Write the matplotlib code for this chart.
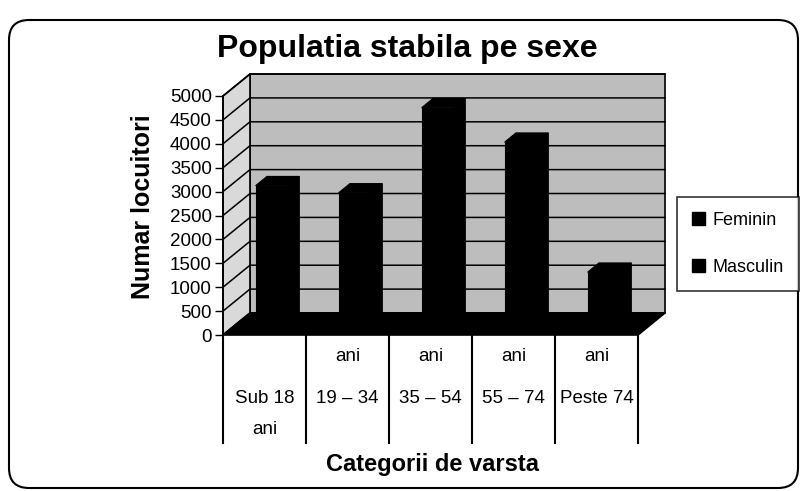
import matplotlib
matplotlib.use("Agg")
import matplotlib.pyplot as plt
from matplotlib.patches import Polygon, FancyBboxPatch, Patch

plt.rcParams['font.family'] = ['Liberation Sans', 'DejaVu Sans']

# age groups, split over the three text lines of each category cell
label_top = ["", "ani", "ani", "ani", "ani"]
label_mid = ["Sub 18", "19 – 34", "35 – 54", "55 – 74", "Peste 74"]
label_bot = ["ani", "", "", "", ""]
populatie = [3000, 2850, 4630, 3910, 1190]
series_names = ["Feminin", "Masculin"]
y_ticks = list(range(0, 5001, 500))

W, H = 802, 491
fig = plt.figure(figsize=(W / 100, H / 100), dpi=100)

# front plane of the 3-D box: x = category index, y = number of inhabitants
ax = fig.add_axes([223 / W, (H - 335) / H, (638 - 223) / W, (335 - 96) / H])
n = len(populatie)
ymax = y_ticks[-1]
ax.set_xlim(0, n)
ax.set_ylim(0, ymax)
ax.patch.set_visible(False)

# oblique depth offset in data units for depth z in [0, 1]
DX = 0.325
DY = 460


def proj(x, y, z):
    return (x + DX * z, y + DY * z)


def face(points, color, z, ec='black', lw=1.2):
    ax.add_patch(Polygon(points, closed=True, facecolor=color, edgecolor=ec,
                         lw=lw, clip_on=False, zorder=z))


# walls and floor
face([proj(0, 0, 1), proj(n, 0, 1), proj(n, ymax, 1), proj(0, ymax, 1)], '#bdbdbd', 1)
face([proj(0, 0, 0), proj(0, 0, 1), proj(0, ymax, 1), proj(0, ymax, 0)], '#d9d9d9', 1)

# gridlines: diagonal on the side wall, horizontal on the back wall
for t in y_ticks:
    pts = [proj(0, t, 0), proj(0, t, 1), proj(n, t, 1)]
    ax.plot([p[0] for p in pts], [p[1] for p in pts], color='black', lw=1.1,
            clip_on=False, zorder=2)

face([proj(0, 0, 0), proj(n, 0, 0), proj(n, 0, 1), proj(0, 0, 1)], 'black', 3)

# columns
zf, zb = 0.27, 0.69
half = 0.195
for i, v in enumerate(populatie):
    x0, x1 = i + 0.5 - half, i + 0.5 + half
    front = [proj(x0, 0, zf), proj(x1, 0, zf), proj(x1, v, zf), proj(x0, v, zf)]
    top = [proj(x0, v, zf), proj(x1, v, zf), proj(x1, v, zb), proj(x0, v, zb)]
    side = [proj(x1, 0, zf), proj(x1, 0, zb), proj(x1, v, zb), proj(x1, v, zf)]
    for f in (side, top, front):
        face(f, 'black', 4, lw=0.8)

# value axis
ax.set_yticks(y_ticks)
ax.set_xticks([])
ax.tick_params(axis='y', direction='out', length=6, width=1, labelsize=13.5, pad=2)
for s in ('top', 'right', 'bottom'):
    ax.spines[s].set_visible(False)
ax.spines['left'].set_linewidth(1.3)
ax.spines['left'].set_zorder(5)

# category cells below the floor
xt = ax.get_xaxis_transform()
for k in range(n + 1):
    ax.plot([k, k], [0, -0.452], transform=xt, color='black', lw=1.5, clip_on=False)
for i in range(n):
    ax.text(i + 0.5, -0.092, label_top[i], transform=xt, ha='center', va='center', fontsize=13.5)
    ax.text(i + 0.5, -0.264, label_mid[i], transform=xt, ha='center', va='center', fontsize=13.5)
    ax.text(i + 0.5, -0.397, label_bot[i], transform=xt, ha='center', va='center', fontsize=13.5)

# titles
fig.text(407 / W, (H - 57) / H, "Populatia stabila pe sexe", ha='center', va='baseline',
         fontsize=23, fontweight='bold')
fig.text(143 / W, (H - 207) / H, "Numar locuitori", ha='center', va='center',
         rotation=90, fontsize=18, fontweight='bold')
fig.text(432 / W, (H - 465) / H, "Categorii de varsta", ha='center', va='center',
         fontsize=17, fontweight='bold')

# legend
handles = [Patch(facecolor='black', edgecolor='black', label=s) for s in series_names]
leg = fig.legend(handles=handles, loc='center left', bbox_to_anchor=(677 / W, (H - 244) / H),
                 frameon=True, fancybox=False, edgecolor='black', fontsize=13,
                 handlelength=0.7, handleheight=0.7, handletextpad=0.4,
                 labelspacing=1.65, borderpad=0.85, borderaxespad=0)
leg.get_frame().set_linewidth(1.2)

# rounded chart border
fig.patches.append(FancyBboxPatch((0.09, 0.03), 7.89, 4.68,
                                  boxstyle="round,pad=0,rounding_size=0.2",
                                  transform=fig.dpi_scale_trans, facecolor='none',
                                  edgecolor='black', lw=1.5))

fig.savefig("out.png", dpi=100)
